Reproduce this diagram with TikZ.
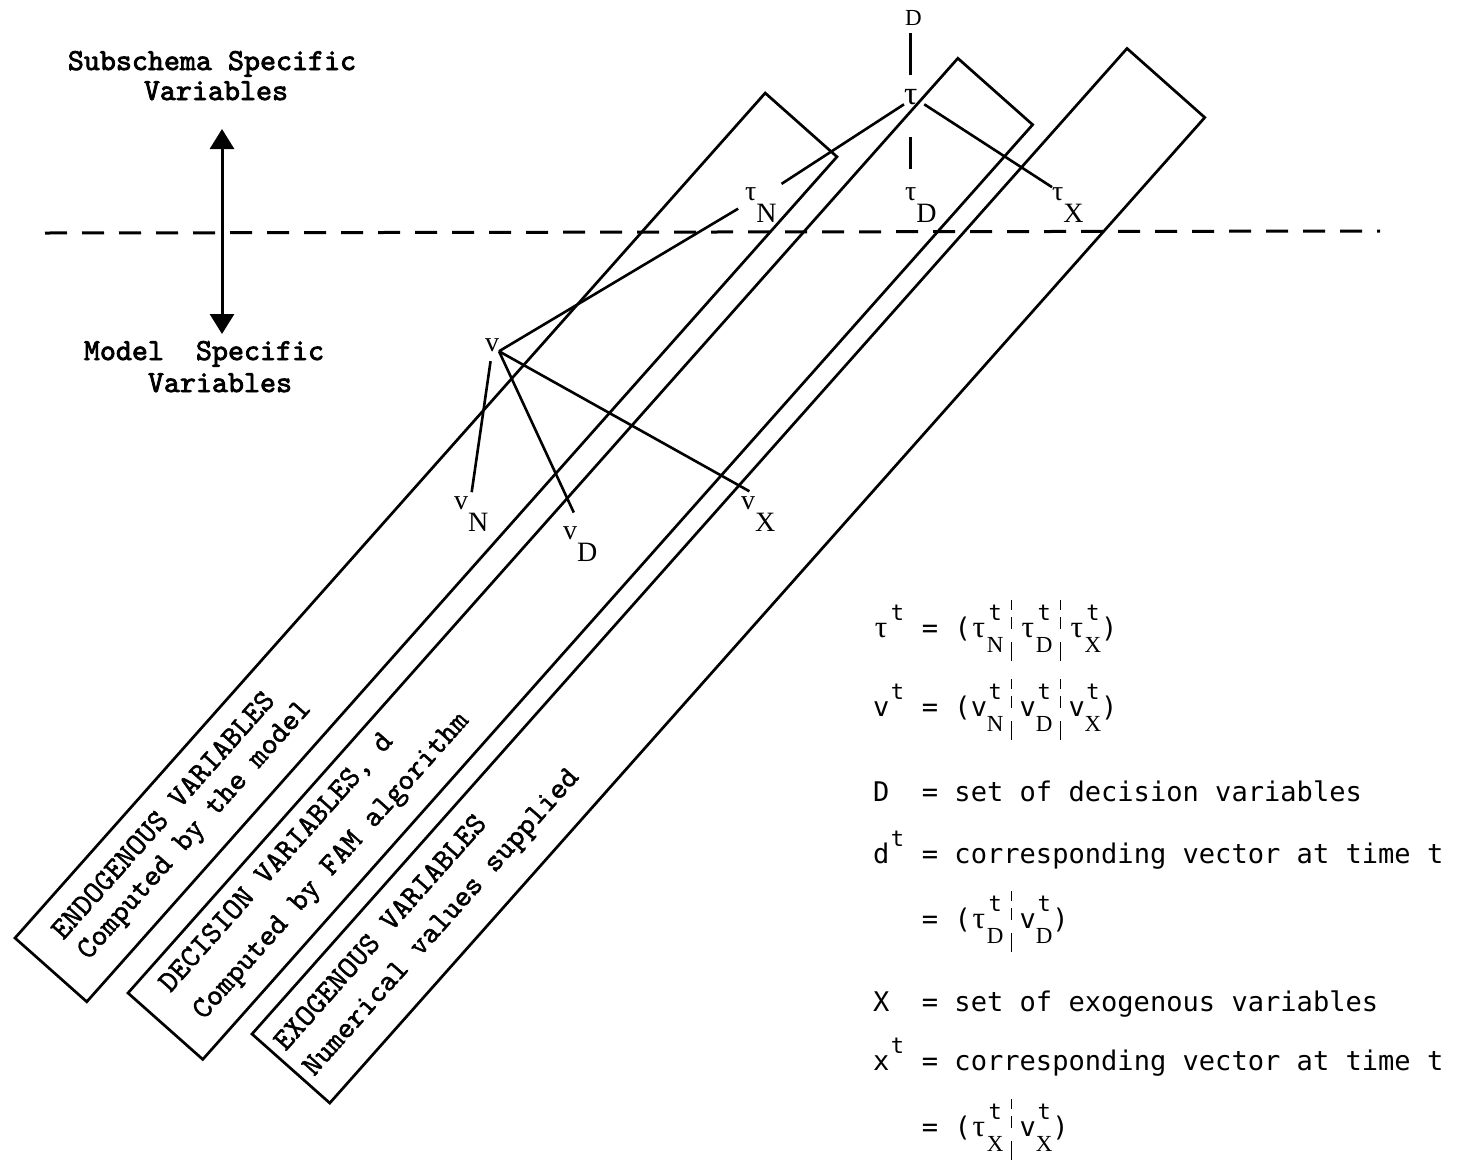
\documentclass[tikz,border=0pt]{standalone}
\usepackage{fontspec}
\setmainfont{Liberation Serif}
\newfontfamily\courb{lmmono10-regular}[Extension=.otf, FakeBold=2.6]
\newfontfamily\courf{lmmono10-regular}[Extension=.otf, FakeBold=1.5]
\newfontfamily\gothf{DejaVu Sans Mono}
\newfontfamily\serf{Liberation Serif}
\usetikzlibrary{arrows.meta,calc}

\newcommand\colm[1]{\makebox[16.3pt][c]{#1}}
\newcommand\tauc{\colm{\serf\fontsize{31}{31}\selectfont τ}}
\newcommand\supt{\colm{\raisebox{17pt}{\fontsize{22}{22}\selectfont t}}}
\newcommand\stk[1]{\colm{\makebox[0pt]{\raisebox{17pt}{\fontsize{22}{22}\selectfont t}}\makebox[0pt]{\raisebox{-15pt}{\serf\fontsize{23}{23}\selectfont #1}}}}
\newcommand\vbarx{\colm{\makebox[0pt]{\raisebox{27pt}{\rule{1.8pt}{10pt}}}\makebox[0pt]{\raisebox{8pt}{\rule{1.8pt}{12pt}}}\makebox[0pt]{\raisebox{-24pt}{\rule{1.8pt}{19pt}}}}}
\newcommand\slab[2]{#1\raisebox{-22pt}{#2}}

\tikzset{
  every node/.style={inner sep=0pt, outer sep=0pt},
  ln/.style={line width=2.6pt},
  boxln/.style={line width=2.7pt, line join=miter},
  lbl/.style={font=\serf\fontsize{28}{28}\selectfont, anchor=base west},
  hd/.style={font=\courb\fontsize{30.5}{32}\selectfont, anchor=base},
  rt/.style={font=\courf\fontsize{30.5}{32}\selectfont, rotate=48.4, anchor=base west},
  eq/.style={font=\gothf\fontsize{27.07}{32}\selectfont, anchor=base west},
  dashln/.style={line width=3pt, dash pattern=on 22pt off 15pt},
  arrowln/.style={line width=3pt, {Triangle[width=24pt,length=20pt]}-{Triangle[width=24pt,length=20pt]}}
}

\begin{document}
\begin{tikzpicture}[x=1pt,y=-1pt]
\useasboundingbox (0,0) rectangle (1460,1163);

% level labels and arrow
\node[hd] (sub1) at (212,70) {Subschema Specific};
\node[hd] (sub2) at (216,100) {Variables};
\node[hd] (mod1) at (204,360) {Model\ \ Specific};
\node[hd] (mod2) at (220,392) {Variables};
\coordinate (atop) at (222,129);
\coordinate (abot) at (222,334);
\draw[arrowln] (atop) -- (abot);

% dashed separating line
\coordinate (dl) at (45,233);
\coordinate (dr) at (1380,231);
\draw[dashln] (dl) -- (dr);

% the three slanted boxes
\coordinate (A1) at (15,938);
\coordinate (A2) at (128,993);
\coordinate (A3) at (252,1034);
\draw[boxln] (A1) -- ++(-48.4:1130) -- ++(41.6:96) -- ++(131.6:1130) -- cycle;
\draw[boxln] (A2) -- ++(-48.4:1250) -- ++(41.6:100) -- ++(131.6:1250) -- cycle;
\draw[boxln] (A3) -- ++(-48.4:1318) -- ++(41.6:104) -- ++(131.6:1318) -- cycle;

\node[rt] (en1) at ($(A1)+(-48.4:30)+(41.6:38)$) {ENDOGENOUS VARIABLES};
\node[rt] (en2) at ($(A1)+(-48.4:32)+(41.6:70)$) {Computed by the model};
\node[rt] (de1) at ($(A2)+(-48.4:28)+(41.6:32)$) {DECISION VARIABLES, d};
\node[rt] (de2) at ($(A2)+(-48.4:30)+(41.6:75)$) {Computed by FAM algorithm};
\node[rt] (ex1) at ($(A3)+(-48.4:9)+(41.6:37)$) {EXOGENOUS VARIABLES};
\node[rt] (ex2) at ($(A3)+(-48.4:9)+(41.6:75)$) {Numerical values supplied};

% tree of variables
\node[lbl, font=\serf\fontsize{23}{23}\selectfont] (Dtop) at (905,25) {D};
\node[lbl, font=\serf\fontsize{33}{33}\selectfont] (tau) at (904,104) {τ};
\node[lbl] (tauN) at (745,200) {\slab{τ}{N}};
\node[lbl] (tauD) at (905,200) {\slab{τ}{D}};
\node[lbl] (tauX) at (1052,200) {\slab{τ}{X}};
\node[lbl] (v) at (485,351) {v};
\node[lbl] (vN) at (454,509) {\slab{v}{N}};
\node[lbl] (vD) at (563,539) {\slab{v}{D}};
\node[lbl] (vX) at (741,509) {\slab{v}{X}};

\draw[ln, shorten <=8pt, shorten >=14pt] (tau.north |- Dtop.south) -- (tau.north);
\draw[ln, shorten <=33pt, shorten >=18pt] (tau.south) -- (tau.south |- tauD.north);
\draw[ln, shorten >=6pt] (tau.south west) -- (tauN.north east);
\draw[ln] ([xshift=7pt]tau.south east) -- (tauX.north west);
\draw[ln, shorten >=8pt] (v.south east) -- (tauN.west);
\draw[ln, shorten <=10pt, shorten >=4pt] (v.south) -- (vN.north);
\draw[ln, shorten >=15pt] (v.south east) -- (vD.north);
\draw[ln, shorten >=10pt] (v.south east) -- (vX.north);

% definitions
\node[eq] (r1) at (873,637) {\tauc\supt\colm{}=\colm{}(\tauc\stk{N}\vbarx\tauc\stk{D}\vbarx\tauc\stk{X})};
\node[eq] (r2) at (873,716) {v\supt\colm{}=\colm{}(v\stk{N}\vbarx v\stk{D}\vbarx v\stk{X})};
\node[eq] (r3) at (873,801) {D\colm{}\colm{}=\colm{}set of decision variables};
\node[eq] (r4) at (873,863) {d\supt\colm{}=\colm{}corresponding vector at time t};
\node[eq] (r5) at (873,928) {\colm{}\colm{}\colm{}=\colm{}(\tauc\stk{D}\vbarx v\stk{D})};
\node[eq] (r6) at (873,1011) {X\colm{}\colm{}=\colm{}set of exogenous variables};
\node[eq] (r7) at (873,1070) {x\supt\colm{}=\colm{}corresponding vector at time t};
\node[eq] (r8) at (873,1136) {\colm{}\colm{}\colm{}=\colm{}(\tauc\stk{X}\vbarx v\stk{X})};
\end{tikzpicture}
\end{document}
